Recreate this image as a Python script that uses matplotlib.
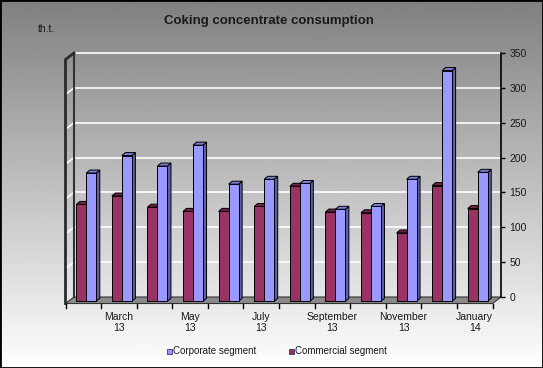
import numpy as np
import matplotlib

matplotlib.use("Agg")
import matplotlib.pyplot as plt
from matplotlib.patches import Polygon, Rectangle

plt.rcParams["font.family"] = ["Liberation Sans", "DejaVu Sans"]

# data (thousand tonnes), Feb 2013 .. Jan 2014
MONTHS = ["February", "March", "April", "May", "June", "July", "August",
          "September", "October", "November", "December", "January"]
YEARS = ["13"] * 11 + ["14"]
COMMERCIAL = [139, 151, 135, 129, 129, 136, 165, 128, 127, 98, 166, 133]
CORPORATE = [184, 209, 194, 224, 168, 175, 169, 132, 136, 175, 331, 185]
YTICKS = [0, 50, 100, 150, 200, 250, 300, 350]

W, H = 543, 368
fig = plt.figure(figsize=(W / 100, H / 100), dpi=100)

# vertical grey -> white gradient behind everything
bg = fig.add_axes([0, 0, 1, 1], zorder=-10)
grad = np.linspace(0.5, 1.0, 256).reshape(-1, 1)
bg.imshow(grad, cmap="gray", vmin=0, vmax=1, aspect="auto", extent=[0, 1, 0, 1])
bg.axis("off")

# axes = back wall of the pseudo-3D chart
ax = fig.add_axes([74 / W, 1 - 297 / H, 427 / W, 244 / H])
ax.set_xlim(-0.5, 11.5)
ax.set_ylim(0, 350)
ax.patch.set_visible(False)
for s in ["top", "left", "bottom"]:
    ax.spines[s].set_visible(False)
ax.spines["right"].set_linewidth(1.2)
ax.set_xticks([])
ax.yaxis.tick_right()
ax.set_yticks(YTICKS)
ax.tick_params(axis="y", length=3, width=1, pad=3, labelsize=7.5, labelcolor="#1a1a1a")

px_x = 427 / 12.0
px_y = 244 / 350.0


def dxp(p):
    return p / px_x


def dyp(p):
    return p / px_y


# floor / side-wall depth
fdx, fdy = dxp(8.5), dyp(6.5)
n = len(MONTHS)
xl, xr = -0.5, n - 0.5

# gridlines on back wall and side wall
for v in YTICKS[1:]:
    ax.plot([xl, xr], [v, v], color="white", lw=1.2, zorder=1, clip_on=False)
    ax.plot([xl - fdx, xl], [v - fdy, v], color="white", lw=1.2, zorder=1, clip_on=False)

# floor
floor = Polygon([(xl, 0), (xr, 0), (xr - fdx, -fdy), (xl - fdx, -fdy)],
                closed=True, fc="#8a8a8a", ec="#333333", lw=0.8, zorder=2, clip_on=False)
ax.add_patch(floor)

# left edges
ax.plot([xl, xl], [0, 350], color="#333333", lw=1.5, zorder=2, clip_on=False)
ax.plot([xl - fdx, xl - fdx, xl], [-fdy, 350 - fdy, 350], color="#2a2a2a", lw=2,
        zorder=2, clip_on=False)

# category ticks on front floor edge
for b in np.arange(-0.5, n, 1.0):
    ax.plot([b - fdx, b - fdx], [-fdy, -fdy - dyp(4)], color="black", lw=1,
            zorder=3, clip_on=False)

# category labels, every second month
for i in range(1, n, 2):
    ax.text(i - fdx, -fdy - dyp(8), f"{MONTHS[i]}\n{YEARS[i]}", ha="center", va="top",
            fontsize=7.5, color="#1a1a1a", linespacing=1.2, clip_on=False)

# bars
bw = dxp(10)
fx, fy = -dxp(5.5), -dyp(4.3)
ddx, ddy = dxp(3.5), dyp(3)
series = [(COMMERCIAL, -1, "#993366", "#6b2447", "#6e2248"),
          (CORPORATE, 0, "#9999ff", "#5f5fa8", "#7b7bd4")]
for i in range(n):
    for vals, side, front_c, side_c, top_c in series:
        v = vals[i]
        x0 = i + fx + side * bw
        x1 = x0 + bw
        z = 4 + i
        ax.add_patch(Polygon([(x1, fy), (x1 + ddx, fy + ddy), (x1 + ddx, fy + v + ddy),
                              (x1, fy + v)], closed=True, fc=side_c, ec="black",
                             lw=0.7, zorder=z, clip_on=False))
        ax.add_patch(Polygon([(x0, fy + v), (x1, fy + v), (x1 + ddx, fy + v + ddy),
                              (x0 + ddx, fy + v + ddy)], closed=True, fc=top_c,
                             ec="black", lw=0.7, zorder=z, clip_on=False))
        ax.bar(x0 + bw / 2, v, width=bw, bottom=fy, color=front_c, edgecolor="black",
               linewidth=0.7, zorder=z, clip_on=False)

# titles
fig.text(269 / W, 1 - 21 / H, "Coking concentrate consumption", ha="center", va="center",
         fontsize=9.5, fontweight="bold", color="#1a1a1a")
fig.text(38 / W, 1 - 29 / H, "th.t.", ha="left", va="center", fontsize=7.5, color="#1a1a1a")

# legend
for x, label, c in [(167, "Corporate segment", "#9999ff"),
                    (289, "Commercial segment", "#993366")]:
    fig.patches.append(Rectangle((x / W, 1 - 354 / H), 5 / W, 5 / H,
                                 transform=fig.transFigure, fc=c, ec="#333366", lw=0.6))
    fig.text((x + 6) / W, 1 - 351.5 / H, label, ha="left", va="center",
             fontsize=7, color="#1a1a1a")

# outer border
fig.patches.append(Rectangle((0, 0), 1, 1, transform=fig.transFigure, fill=False,
                             ec="black", lw=2))

fig.savefig("out.png", dpi=100)
